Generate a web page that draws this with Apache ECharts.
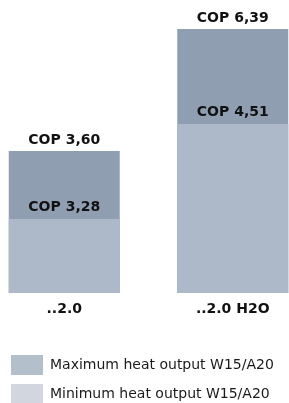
<!DOCTYPE html>
<html>
<head>
<meta charset="utf-8">
<script src="https://cdn.jsdelivr.net/npm/echarts@6/dist/echarts.min.js"></script>
<style>
    html, body { margin: 0; padding: 0; background: #ffffff; }
    #chart { width: 289px; height: 403px; }
</style>
</head>
<body>
<div id="chart"></div>
<script>
// 数据
var categories = ["..2.0", "..2.0 H2O"];
var maxOutput = [14.2, 26.4];
var minOutput = [7.4, 16.9];
var maxCop = ["COP 3,60", "COP 6,39"];
var minCop = ["COP 3,28", "COP 4,51"];
var seriesNames = ["Maximum heat output W15/A20", "Minimum heat output W15/A20"];
var legendColors = ["#b4bfcc", "#d2d7df"];

chart();

function legendItem(i, top) {
    return {
        orient: "vertical",
        left: 11,
        top: top,
        padding: 0,
        itemWidth: 32,
        itemHeight: 20,
        icon: "rect",
        textStyle: {
            color: "#1a1a1a",
            fontFamily: "DejaVu Sans",
            fontSize: 14,
            padding: [0, 0, 0, 2],
        },
        data: [{ name: seriesNames[i], itemStyle: { color: legendColors[i] } }],
    };
}

function chart() {
    var myChart = echarts.init(document.getElementById("chart"));
    var font = "DejaVu Sans";

    var option = {
        animation: false,
        grid: {
            left: -20,
            right: -28,
            top: 29,
            bottom: 110,
            outerBoundsMode: "none",
        },
        legend: [legendItem(0, 355), legendItem(1, 384)],
        xAxis: {
            type: "category",
            data: categories,
            axisLine: { show: false },
            axisTick: { show: false },
            axisLabel: {
                color: "#111",
                fontFamily: font,
                fontWeight: "bold",
                fontSize: 14,
                margin: 9,
            },
        },
        yAxis: {
            type: "value",
            min: 0,
            max: 26.4,
            show: false,
        },
        series: [
            {
                name: seriesNames[0],
                type: "bar",
                barWidth: 111,
                itemStyle: { color: "#8f9fb1" },
                label: {
                    show: true,
                    position: "top",
                    distance: 4,
                    color: "#111",
                    fontFamily: font,
                    fontWeight: "bold",
                    fontSize: 14,
                    formatter: function (p) {
                        return maxCop[p.dataIndex];
                    },
                },
                data: maxOutput,
            },
            {
                name: seriesNames[1],
                type: "bar",
                barWidth: 111,
                barGap: "-100%",
                itemStyle: { color: "#adb9c8" },
                label: {
                    show: true,
                    position: "top",
                    distance: 5,
                    color: "#111",
                    fontFamily: font,
                    fontWeight: "bold",
                    fontSize: 14,
                    formatter: function (p) {
                        return minCop[p.dataIndex];
                    },
                },
                data: minOutput,
            },
        ],
    };

    myChart.setOption(option);
    window.addEventListener("resize", function () {
        myChart.resize();
    });
}
</script>
</body>
</html>
